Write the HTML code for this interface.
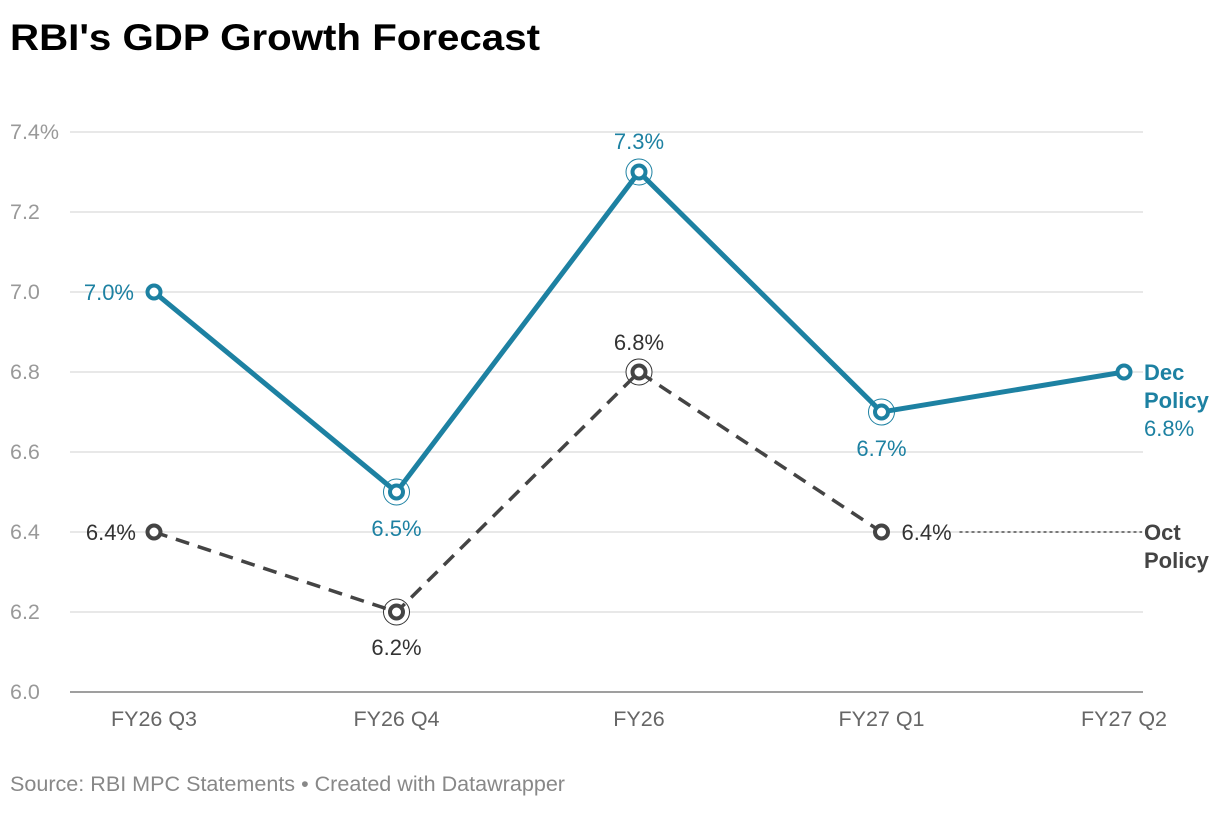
<!DOCTYPE html>
<html><head><meta charset="utf-8"><style>
body{margin:0;background:#fff;width:1220px;height:808px;overflow:hidden;font-family:"Liberation Sans",sans-serif}
</style></head><body>
<svg id="chart" width="1220" height="808" xmlns="http://www.w3.org/2000/svg" font-family="Liberation Sans, sans-serif">
<text x="10" y="50" font-size="37" font-weight="bold" fill="#000" textLength="530" lengthAdjust="spacingAndGlyphs">RBI's GDP Growth Forecast</text>
<text x="10" y="791" font-size="21" fill="#888" textLength="555" lengthAdjust="spacingAndGlyphs">Source: RBI MPC Statements • Created with Datawrapper</text>
<g id="grid"></g><g id="lines"></g><g id="marks"></g>
</svg>
<script>
const categories = ["FY26 Q3","FY26 Q4","FY26","FY27 Q1","FY27 Q2"];
const decValues = [7.0,6.5,7.3,6.7,6.8];
const octValues = [6.4,6.2,6.8,6.4,null];
const yTicks = [6.0,6.2,6.4,6.6,6.8,7.0,7.2,7.4];
const yTickLabels = ["6.0","6.2","6.4","6.6","6.8","7.0","7.2","7.4%"];
const NS="http://www.w3.org/2000/svg";
const svg=document.getElementById('chart');
const y=v=>692-(v-6.0)/0.2*80;
const x=i=>154+i*242.5;
function mk(tag,attrs,parent,text){const e=document.createElementNS(NS,tag);for(const k in attrs)e.setAttribute(k,attrs[k]);if(text!=null)e.textContent=text;(parent||svg).appendChild(e);return e;}
const grid=document.getElementById('grid'),lines=document.getElementById('lines'),marks=document.getElementById('marks');
yTicks.forEach((t,i)=>{
  const l=mk('line',{x1:70,x2:1143,y1:y(t),y2:y(t),stroke:i==0?'#666':'#e0e0e0','stroke-width':i==0?1.2:1.5},grid);
  
  
  const tx=mk('text',{x:10,y:y(t)+7,'font-size':21.5,fill:'#999'},grid,yTickLabels[i]);
  
  
});
categories.forEach((c,i)=>{
  const tx=mk('text',{x:x(i),y:726,'font-size':21.5,fill:'#666','text-anchor':'middle'},grid,c);
  
  
});
function series(vals,color,dash,name){
  const pts=vals.map((v,i)=>v==null?null:[x(i),y(v)]).filter(p=>p);
  const p=mk('polyline',{points:pts.map(p=>p.join(',')).join(' '),fill:'none',stroke:color,'stroke-width':dash?3.5:5,'stroke-dasharray':dash?'14,9':'none','stroke-linejoin':'round'},lines);
  
  
  vals.forEach((v,i)=>{
    if(v==null)return;
    const c=mk('circle',{cx:x(i),cy:y(v),r:6.5,fill:'#fff',stroke:color,'stroke-width':4},marks);
    
    
  });
}
[[1,6.5,'#1d81a2'],[2,7.3,'#1d81a2'],[3,6.7,'#1d81a2'],[1,6.2,'#333'],[2,6.8,'#333']].forEach(r=>{
  const c=mk('circle',{cx:x(r[0]),cy:y(r[1]),r:13,fill:'#fff',stroke:r[2],'stroke-width':1},lines);
  
  
});
series(octValues,'#444',true,'oct-policy');
series(decValues,'#1d81a2',false,'dec-policy');
function lab(t,xx,yy,col,anchor,name,bold){
  const e=mk('text',{x:xx,y:yy,'font-size':22,fill:col,'text-anchor':anchor||'middle','font-weight':bold?'bold':'normal'},marks,t);
  
  
}
const B='#1d81a2',G='#333';
lab(decValues[0].toFixed(1)+'%',x(0)-20,y(decValues[0])+8,B,'end','dec-value-label');
lab(decValues[1].toFixed(1)+'%',x(1),y(decValues[1])+44,B,'middle','dec-value-label');
lab(decValues[2].toFixed(1)+'%',x(2),y(decValues[2])-23,B,'middle','dec-value-label');
lab(decValues[3].toFixed(1)+'%',x(3),y(decValues[3])+44,B,'middle','dec-value-label');
lab(octValues[0].toFixed(1)+'%',x(0)-18,y(octValues[0])+8,G,'end','oct-value-label');
lab(octValues[1].toFixed(1)+'%',x(1),y(octValues[1])+43,G,'middle','oct-value-label');
lab(octValues[2].toFixed(1)+'%',x(2),y(octValues[2])-22,G,'middle','oct-value-label');
lab(octValues[3].toFixed(1)+'%',x(3)+20,y(octValues[3])+8,G,'start','oct-value-label');
const dl=mk('line',{x1:x(3)+78,x2:1142,y1:y(octValues[3]),y2:y(octValues[3]),stroke:'#333','stroke-width':1.3,'stroke-dasharray':'3,3'},marks);


lab('Dec',1144,y(decValues[4])+8,B,'start','dec-series-label',true);
lab('Policy',1144,y(decValues[4])+36,B,'start','dec-series-label',true);
lab(decValues[4].toFixed(1)+'%',1144,y(decValues[4])+64,B,'start','dec-value-label');
lab('Oct',1144,y(6.4)+8,'#444','start','oct-series-label',true);
lab('Policy',1144,y(6.4)+36,'#444','start','oct-series-label',true);
</script>
</body></html>
